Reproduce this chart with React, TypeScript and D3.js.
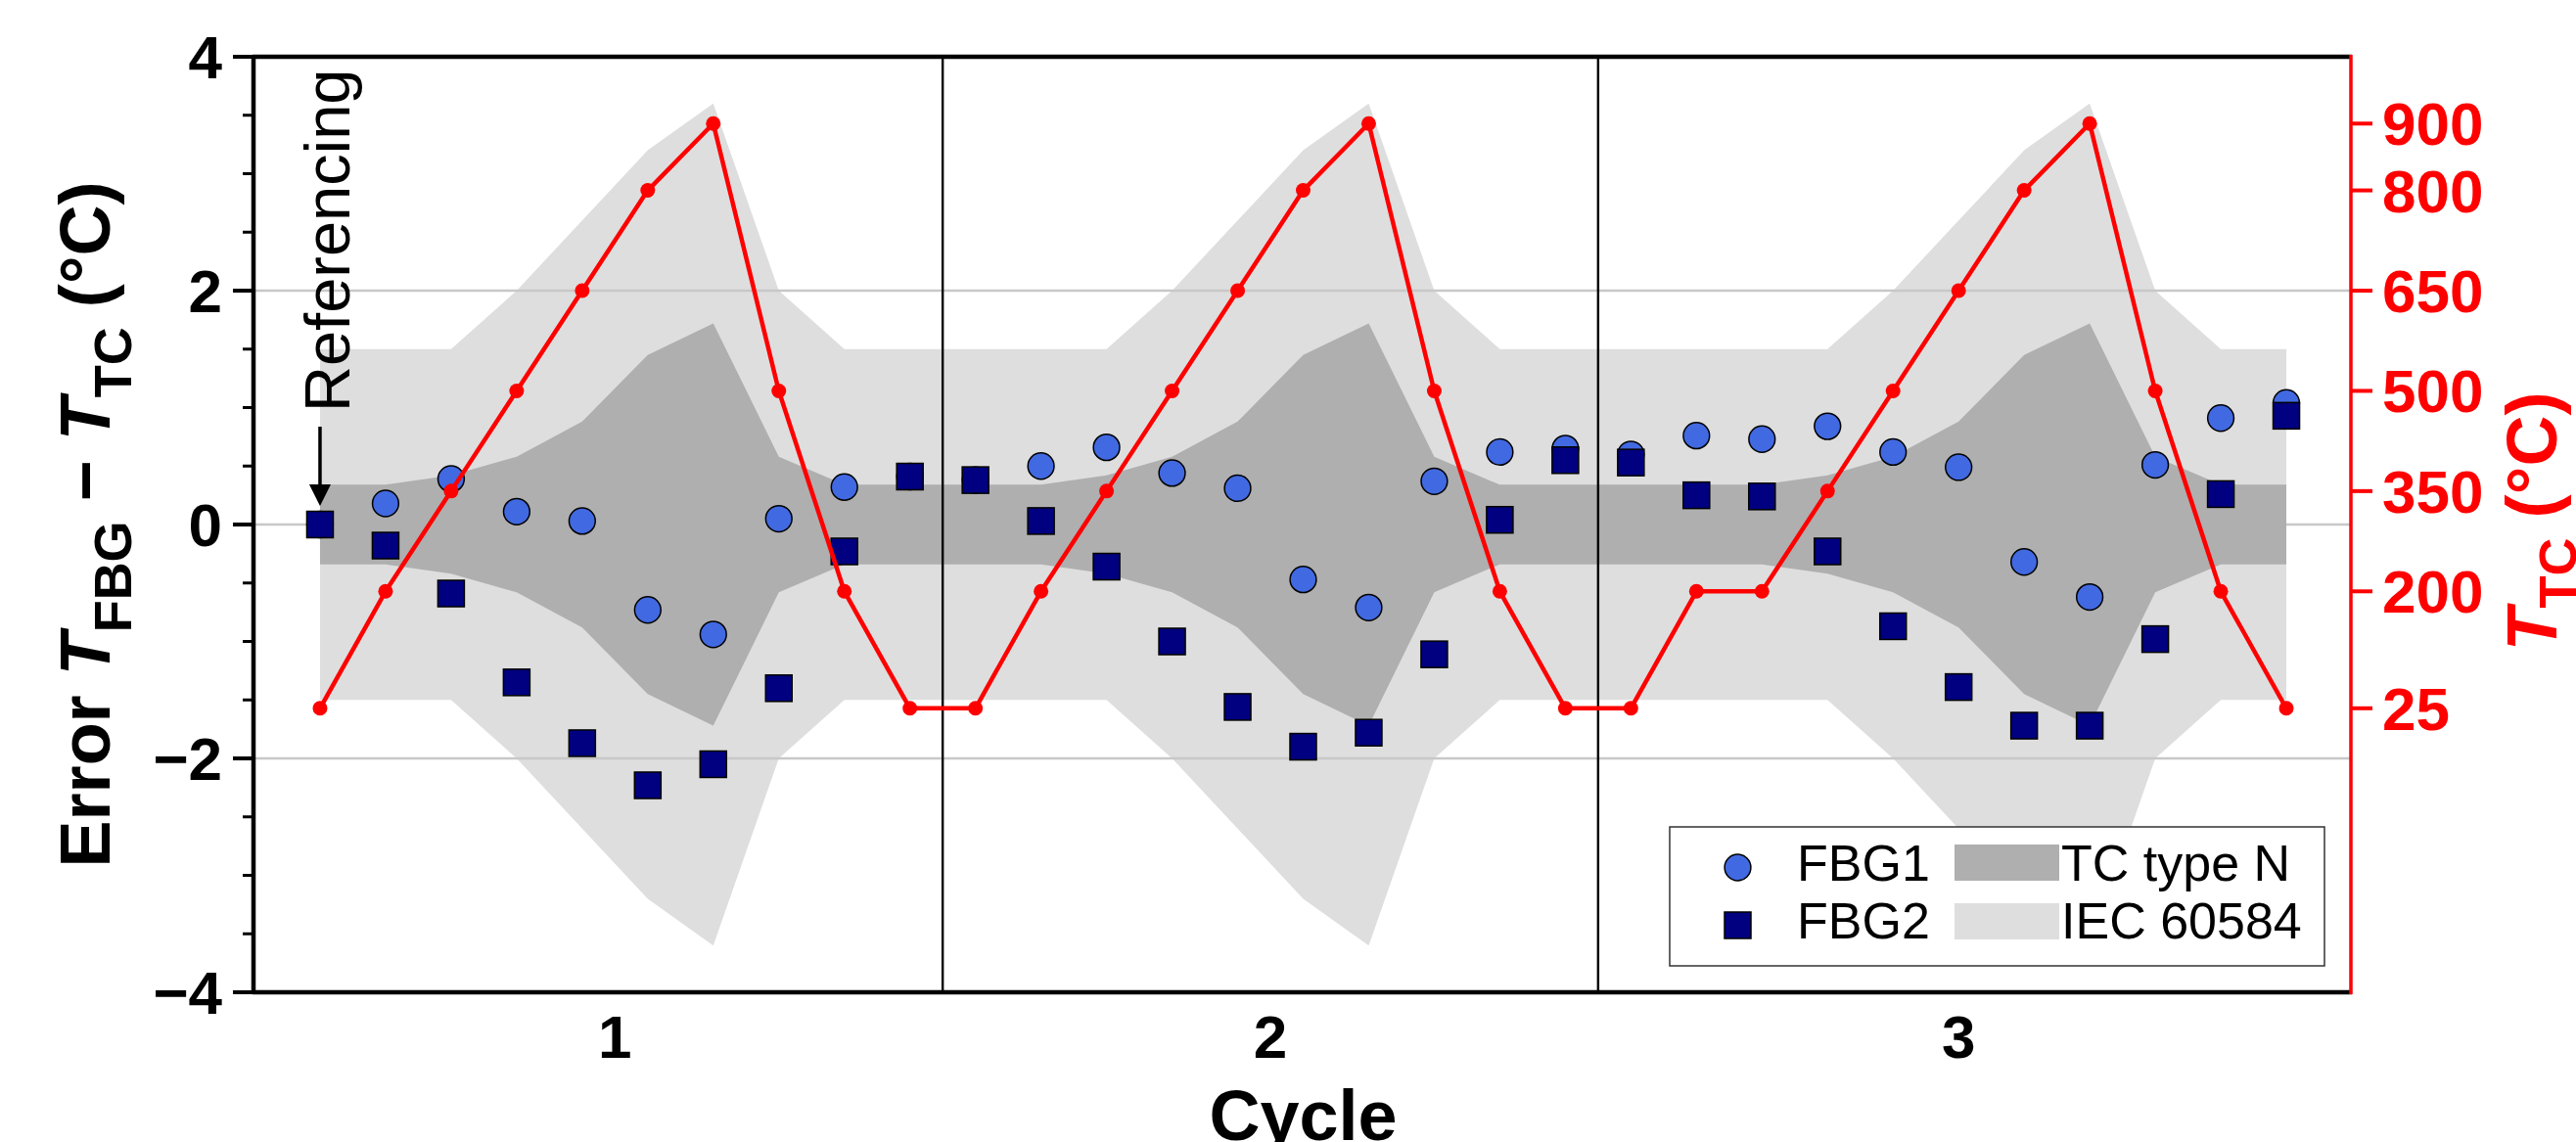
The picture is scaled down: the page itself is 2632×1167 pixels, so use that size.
import React from 'react';
import * as d3 from 'd3';

const W = 2632;
const H = 1167;

// ---- data ----
const cycleTickPos = [4.5, 14.5, 25];
const cycleLabels = ['1', '2', '3'];
const cycleSeparators = [9.5, 19.5];
const tcTemps = [
  25, 200, 350, 500, 650, 800, 900, 500, 200, 25,
  25, 200, 350, 500, 650, 800, 900, 500, 200, 25,
  25, 200, 200, 350, 500, 650, 800, 900, 500, 200, 25,
];
const fbg1 = [
  0.0, 0.18, 0.39, 0.11, 0.03, -0.73, -0.94, 0.05, 0.32, 0.41,
  0.38, 0.5, 0.66, 0.44, 0.31, -0.47, -0.71, 0.37, 0.62, 0.65,
  0.6, 0.76, 0.73, 0.84, 0.62, 0.49, -0.32, -0.62, 0.51, 0.91, 1.04,
];
const fbg2 = [
  0.0, -0.18, -0.59, -1.35, -1.87, -2.23, -2.05, -1.4, -0.23, 0.41,
  0.38, 0.03, -0.36, -1.0, -1.56, -1.9, -1.78, -1.11, 0.04, 0.55,
  0.53, 0.25, 0.24, -0.23, -0.87, -1.39, -1.72, -1.72, -0.98, 0.26, 0.93,
];
const tolTemps = [25, 200, 350, 500, 650, 800, 900];
const tcTypeNTol = [0.34, 0.34, 0.42, 0.58, 0.88, 1.45, 1.72];
const iecTol = [1.5, 1.5, 1.5, 2.0, 2.6, 3.2, 3.6];
const leftMajorTicks = [-4, -2, 0, 2, 4];
const leftMajorLabels = ['\u22124', '\u22122', '0', '2', '4'];
const leftMinorTicks = [-3.5, -3, -2.5, -1.5, -1, -0.5, 0.5, 1, 1.5, 2.5, 3, 3.5];
const rightTicks = [25, 200, 350, 500, 650, 800, 900];
const gridValues = [-2, 0, 2];
const legendSeries = ['FBG1', 'FBG2'];
const legendBands = ['TC type N', 'IEC 60584'];

const FONT = "'Liberation Sans', Arial, Helvetica, sans-serif";
const C_FBG1 = '#4169E1';
const C_FBG2 = '#000080';
const C_RED = '#FF0000';
const C_DARK = '#AFAFAF';
const C_LIGHT = '#DEDEDE';
const C_GRID = '#C8C8C8';

export default function App() {
  const left = 260, right = 2403, top = 58, bottom = 1014;
  const x = d3.scaleLinear().domain([-1, 31]).range([left, right]);
  const yL = d3.scaleLinear().domain([-4, 4]).range([bottom, top]);
  const yR = d3.scaleLinear().domain([-400, 1000]).range([bottom, top]);

  const idx = tcTemps.map((_, i) => i);
  const tolOf = (arr: number[], t: number) => arr[tolTemps.indexOf(t)];

  const iecArea = d3
    .area<number>()
    .x((i) => x(i))
    .y0((i) => yL(-tolOf(iecTol, tcTemps[i])))
    .y1((i) => yL(tolOf(iecTol, tcTemps[i])));
  const tcArea = d3
    .area<number>()
    .x((i) => x(i))
    .y0((i) => yL(-tolOf(tcTypeNTol, tcTemps[i])))
    .y1((i) => yL(tolOf(tcTypeNTol, tcTemps[i])));
  const redLine = d3
    .line<number>()
    .x((i) => x(i))
    .y((i) => yR(tcTemps[i]));

  const R = 13.4;
  const S = 27;

  return (
    <svg
      width={W}
      height={H}
      viewBox={`0 0 ${W} ${H}`}
      style={{ position: 'absolute', left: 0, top: 0, background: '#fff' }}
      fontFamily={FONT}
    >
      <rect x={0} y={0} width={W} height={H} fill="#fff" />
      {/* bands */}
      <path d={iecArea(idx) || ''} fill={C_LIGHT} />
      {gridValues.map((v) => (
        <line key={'g' + v} x1={left} x2={right} y1={yL(v)} y2={yL(v)} stroke={C_GRID} strokeWidth={2.5} />
      ))}
      <path d={tcArea(idx) || ''} fill={C_DARK} />
      {/* cycle separators */}
      {cycleSeparators.map((s) => (
        <line key={'s' + s} x1={x(s)} x2={x(s)} y1={top} y2={bottom} stroke="#000" strokeWidth={2.4} />
      ))}
      {/* markers */}
      {fbg1.map((v, i) => (
        <circle key={'c' + i} cx={x(i)} cy={yL(v)} r={R} fill={C_FBG1} stroke="#000" strokeWidth={1.5} />
      ))}
      {fbg2.map((v, i) => (
        <rect key={'q' + i} x={x(i) - S / 2} y={yL(v) - S / 2} width={S} height={S} fill={C_FBG2} stroke="#000" strokeWidth={1.5} />
      ))}
      {/* referencing annotation */}
      <line x1={x(0)} x2={x(0)} y1={436} y2={498} stroke="#000" strokeWidth={3.5} />
      <path d={`M${x(0)},${517} L${x(0) - 11},${495} L${x(0) + 11},${495} Z`} fill="#000" />
      <text transform={`translate(357,421) rotate(-90)`} fontSize={65} fill="#000">
        Referencing
      </text>
      {/* red TC line */}
      <path d={redLine(idx) || ''} fill="none" stroke={C_RED} strokeWidth={4.5} strokeLinejoin="round" />
      {tcTemps.map((t, i) => (
        <circle key={'r' + i} cx={x(i)} cy={yR(t)} r={7.5} fill={C_RED} />
      ))}
      {/* legend */}
      <g>
        <rect x={1706} y={845} width={669} height={142} fill="#fff" stroke="#333" strokeWidth={1.5} />
        <circle cx={1775.5} cy={886.5} r={R} fill={C_FBG1} stroke="#000" strokeWidth={1.5} />
        <rect x={1775.5 - S / 2} y={945.5 - S / 2} width={S} height={S} fill={C_FBG2} stroke="#000" strokeWidth={1.5} />
        {legendSeries.map((l, k) => (
          <text key={l} x={1836} y={900 + k * 59} fontSize={52} fill="#000">
            {l}
          </text>
        ))}
        <rect x={1997} y={863} width={107} height={37} fill={C_DARK} />
        <rect x={1997} y={923} width={107} height={37} fill={C_LIGHT} />
        {legendBands.map((l, k) => (
          <text key={l} x={2106} y={900 + k * 59} fontSize={52} fill="#000">
            {l}
          </text>
        ))}
      </g>
      {/* spines */}
      <line x1={left - 2} x2={right} y1={top} y2={top} stroke="#000" strokeWidth={4.5} />
      <line x1={left - 2} x2={right} y1={bottom} y2={bottom} stroke="#000" strokeWidth={4.5} />
      <line x1={left - 1} x2={left - 1} y1={top - 2} y2={bottom + 2} stroke="#000" strokeWidth={4.5} />
      <line x1={right - 1} x2={right - 1} y1={top - 2} y2={bottom + 2} stroke={C_RED} strokeWidth={3.5} />
      {/* left ticks */}
      {leftMajorTicks.map((v, k) => (
        <g key={'lt' + v}>
          <line x1={left - 22} x2={left} y1={yL(v)} y2={yL(v)} stroke="#000" strokeWidth={4} />
          <text x={227} y={yL(v) + 22} textAnchor="end" fontSize={62} fontWeight="bold" fill="#000">
            {leftMajorLabels[k]}
          </text>
        </g>
      ))}
      {leftMinorTicks.map((v) => (
        <line key={'lm' + v} x1={left - 12} x2={left} y1={yL(v)} y2={yL(v)} stroke="#000" strokeWidth={3} />
      ))}
      {/* right ticks */}
      {rightTicks.map((t) => (
        <g key={'rt' + t}>
          <line x1={right - 1} x2={right + 21} y1={yR(t)} y2={yR(t)} stroke={C_RED} strokeWidth={4} />
          <text x={2434} y={yR(t) + 22} fontSize={62} fontWeight="bold" fill={C_RED}>
            {t}
          </text>
        </g>
      ))}
      {/* bottom tick labels */}
      {cycleTickPos.map((c, k) => (
        <text key={'bt' + c} x={x(c)} y={1081} textAnchor="middle" fontSize={62} fontWeight="bold" fill="#000">
          {cycleLabels[k]}
        </text>
      ))}
      <text x={(left + right) / 2} y={1165} textAnchor="middle" fontSize={72} fontWeight="bold" fill="#000">
        Cycle
      </text>
      {/* left axis label */}
      <text transform={`translate(112,536) rotate(-90)`} textAnchor="middle" fontSize={72} fontWeight="bold" fill="#000">
        <tspan>{'Error '}</tspan>
        <tspan fontStyle="italic">T</tspan>
        <tspan fontSize={54} dy={22}>FBG</tspan>
        <tspan dy={-22}>{' \u2212 '}</tspan>
        <tspan fontStyle="italic">T</tspan>
        <tspan fontSize={54} dy={22}>TC</tspan>
        <tspan dy={-22}>{' (\u00B0C)'}</tspan>
      </text>
      {/* right axis label */}
      <text transform={`translate(2612,533) rotate(-90)`} textAnchor="middle" fontSize={72} fontWeight="bold" fill={C_RED}>
        <tspan fontStyle="italic">T</tspan>
        <tspan fontSize={54} dy={20}>TC</tspan>
        <tspan dy={-20}>{' (\u00B0C)'}</tspan>
      </text>
    </svg>
  );
}
